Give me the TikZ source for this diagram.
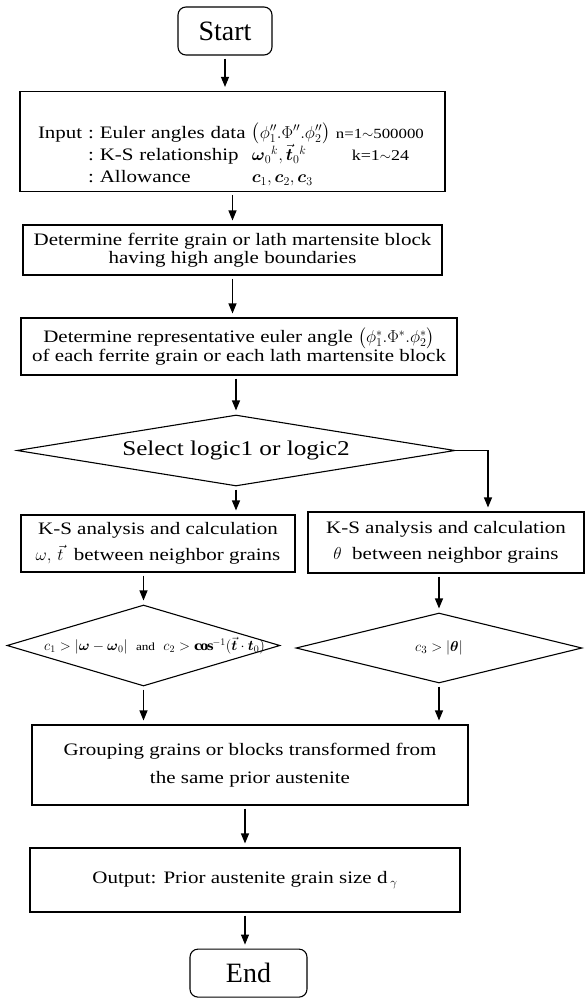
\documentclass[tikz,border=0pt]{standalone}
\usepackage{amsmath,amssymb}
\usepackage{fontspec}
\setmainfont{Liberation Serif}[FakeStretch=1.2]
\newfontfamily\termfont{Liberation Serif}
\usetikzlibrary{shapes.geometric,arrows.meta,positioning}

\begin{document}
\begin{tikzpicture}[
    x=1pt, y=-1pt,
    box/.style={draw, line width=1.1pt, align=center, inner sep=0pt, font=\fontsize{17.5}{18}\selectfont},
    terminal/.style={draw, line width=1.1pt, rounded corners=8pt, inner sep=0pt, font=\termfont\fontsize{28}{30}\selectfont},
    decision/.style={draw, diamond, line width=1.1pt, inner sep=0pt},
    arrow/.style={-{Triangle[length=10pt,width=8pt]}, line width=1.1pt, shorten <=3pt, shorten >=4pt}
]
\useasboundingbox (0,0) rectangle (586,998);

% Start
\node[terminal, minimum width=94pt, minimum height=48pt] (start) at (225,31) {Start};

% Input data
\node[box, anchor=south, align=left, inner xsep=18pt, text width=389pt, text height=91pt, text depth=9pt, font=\fontsize{17.5}{22}\selectfont] (input) at (232.5,192) {%
\begin{tabular}[b]{@{}r@{\ }l@{}}
Input : & \makebox[152pt][l]{Euler angles data}$\bigl(\phi_1''.\Phi''.\phi_2''\bigr)$\ {\fontsize{14}{16}\selectfont n=1$\sim$500000}\\
: & \makebox[152pt][l]{K-S relationship}\makebox[100pt][l]{$\boldsymbol{\omega}_0{}^{k},\vec{\boldsymbol{t}}_0{}^{k}$}{\fontsize{15}{17}\selectfont k=1$\sim$24}\\
: & \makebox[152pt][l]{Allowance}$\boldsymbol{c}_1,\boldsymbol{c}_2,\boldsymbol{c}_3$
\end{tabular}};

% Grain detection
\node[box, minimum width=419pt, minimum height=50pt] (ferrite) at (232.5,250) {Determine ferrite grain or lath martensite block\\having high angle boundaries};
\node[box, minimum width=436pt, minimum height=57pt, font=\fontsize{17.5}{19}\selectfont] (euler) at (239,346.5) {Determine representative euler angle $\bigl(\phi_1^{*}.\Phi^{*}.\phi_2^{*}\bigr)$\\of each ferrite grain or each lath martensite block};

% Logic selection
\node[decision, minimum width=438pt, minimum height=71pt, font=\fontsize{21}{24}\selectfont] (select) at (236,450.5) {\makebox[0pt]{Select logic1 or logic2}};
\coordinate (turn) at (488,450.5);

% K-S analysis
\node[box, minimum width=274pt, minimum height=57pt, font=\fontsize{17.5}{26}\selectfont] (ksl) at (158,543.5) {K-S analysis and calculation\\$\omega,\,\vec{t}$\ \ between neighbor grains};
\node[box, minimum width=276pt, minimum height=61pt, font=\fontsize{17.5}{26}\selectfont] (ksr) at (446,542.5) {K-S analysis and calculation\\$\theta$\ \ between neighbor grains};

% Conditions
\node[decision, minimum width=273pt, minimum height=81pt, font=\fontsize{14}{16}\selectfont] (condl) at (143.5,645.5) {\makebox[0pt]{\hspace*{22pt}$c_1>\left|\boldsymbol{\omega}-\boldsymbol{\omega}_0\right|$\ \ {\fontsize{11}{13}\selectfont and}\ \ $c_2>\mathbf{cos}^{-1}(\vec{\boldsymbol{t}}\cdot\boldsymbol{t}_0)$}};
\node[decision, minimum width=286pt, minimum height=70pt, font=\fontsize{15}{17}\selectfont] (condr) at (439,648) {\makebox[0pt]{$c_3>\left|\boldsymbol{\theta}\right|$}};

% Grouping and output
\node[box, minimum width=436pt, minimum height=80pt, font=\fontsize{17.5}{28}\selectfont] (group) at (250,765) {Grouping grains or blocks transformed from\\the same prior austenite};
\node[box, minimum width=430pt, minimum height=64pt] (output) at (245,880) {Output: Prior austenite grain size d\,$_{\gamma}$};

% End
\node[terminal, minimum width=117pt, minimum height=48pt, below=36pt of output, xshift=3.5pt] (finish) {End};

% Arrows
\draw[arrow] (start.south) -- (start.south |- input.north);
\draw[arrow] (input.south) -- (input.south |- ferrite.north);
\draw[arrow] (ferrite.south) -- (ferrite.south |- euler.north);
\draw[arrow] (euler.south -| select.north) -- (select.north);
\draw[arrow] (select.south) -- (select.south |- ksl.north);
\draw[arrow, shorten <=0pt] (select.east) -- (turn) -- (turn |- ksr.north);
\draw[arrow] (condl.north |- ksl.south) -- (condl.north);
\draw[arrow] (condr.north |- ksr.south) -- (condr.north);
\draw[arrow] (condl.south) -- (condl.south |- group.north);
\draw[arrow] (condr.south) -- (condr.south |- group.north);
\draw[arrow] (output.north |- group.south) -- (output.north);
\draw[arrow] (output.south) -- (output.south |- finish.north);

\end{tikzpicture}
\end{document}
